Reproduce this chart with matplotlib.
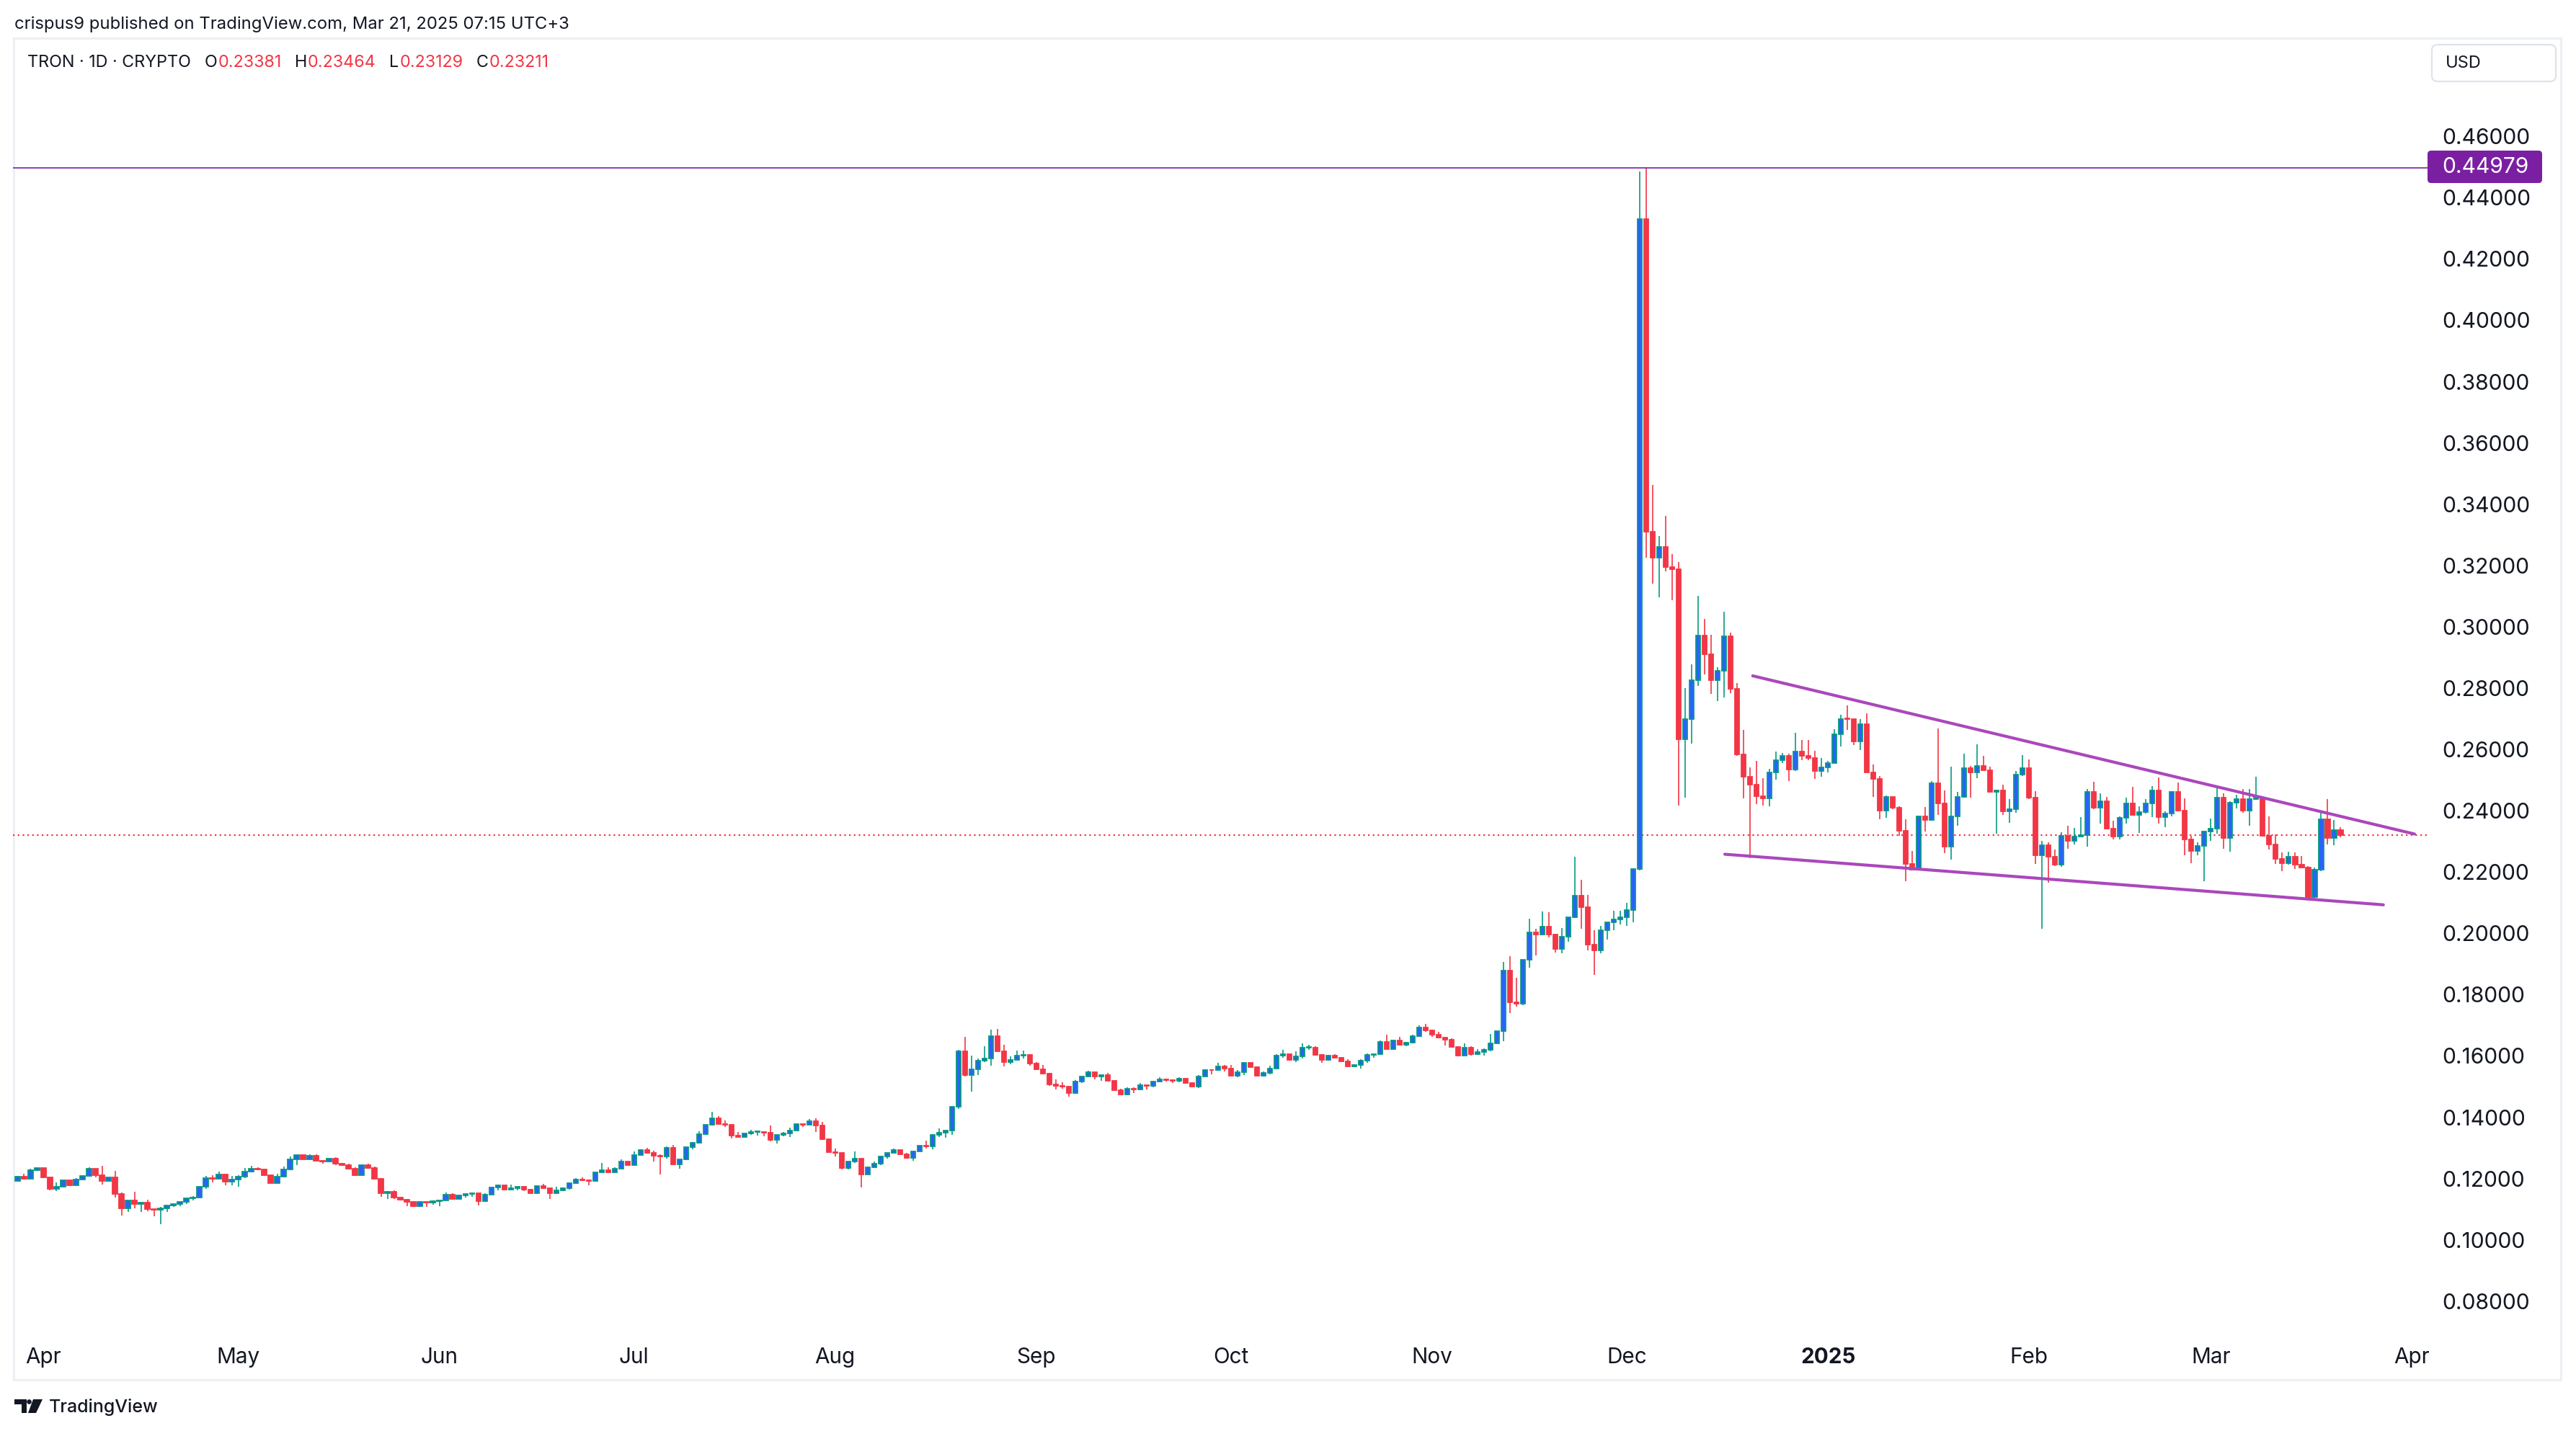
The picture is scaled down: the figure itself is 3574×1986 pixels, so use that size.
import numpy as np
import pandas as pd
import matplotlib
matplotlib.use('Agg')
import matplotlib.pyplot as plt
from matplotlib.patches import Rectangle, FancyBboxPatch, Circle, Polygon

plt.rcParams['font.family'] = ['Inter', 'DejaVu Sans']

# TRX/USD daily candles, 2024-03-28 .. 2025-03-21 (open = previous close)
start_date = '2024-03-28'
first_open = 0.1193
close = [
    0.1206, 0.1200, 0.1227, 0.1235, 0.1204, 0.1167, 0.1173, 0.1194, 0.1178, 0.1196,
    0.1208, 0.1232, 0.1212, 0.1192, 0.1204, 0.1150, 0.1102, 0.1129, 0.1116, 0.1121,
    0.1100, 0.1097, 0.1102, 0.1113, 0.1117, 0.1125, 0.1136, 0.1138, 0.1174, 0.1201,
    0.1200, 0.1213, 0.1191, 0.1196, 0.1206, 0.1223, 0.1231, 0.1229, 0.1212, 0.1186,
    0.1206, 0.1229, 0.1263, 0.1277, 0.1263, 0.1275, 0.1259, 0.1256, 0.1265, 0.1249,
    0.1245, 0.1231, 0.1211, 0.1245, 0.1235, 0.1200, 0.1153, 0.1157, 0.1138, 0.1132,
    0.1124, 0.1110, 0.1124, 0.1121, 0.1126, 0.1129, 0.1148, 0.1134, 0.1146, 0.1150,
    0.1152, 0.1127, 0.1148, 0.1170, 0.1178, 0.1164, 0.1168, 0.1173, 0.1165, 0.1152,
    0.1176, 0.1168, 0.1153, 0.1161, 0.1169, 0.1185, 0.1197, 0.1195, 0.1193, 0.1220,
    0.1227, 0.1220, 0.1232, 0.1255, 0.1245, 0.1276, 0.1293, 0.1284, 0.1274, 0.1271,
    0.1300, 0.1247, 0.1263, 0.1302, 0.1317, 0.1344, 0.1375, 0.1396, 0.1379, 0.1376,
    0.1341, 0.1336, 0.1348, 0.1351, 0.1352, 0.1349, 0.1325, 0.1342, 0.1348, 0.1357,
    0.1378, 0.1375, 0.1387, 0.1374, 0.1328, 0.1286, 0.1283, 0.1235, 0.1256, 0.1264,
    0.1214, 0.1237, 0.1249, 0.1272, 0.1284, 0.1293, 0.1278, 0.1268, 0.1289, 0.1307,
    0.1306, 0.1342, 0.1349, 0.1356, 0.1434, 0.1615, 0.1538, 0.1556, 0.1585, 0.1592,
    0.1665, 0.1616, 0.1580, 0.1587, 0.1600, 0.1603, 0.1576, 0.1556, 0.1543, 0.1506,
    0.1503, 0.1499, 0.1480, 0.1517, 0.1533, 0.1547, 0.1532, 0.1538, 0.1520, 0.1489,
    0.1475, 0.1493, 0.1490, 0.1505, 0.1502, 0.1516, 0.1523, 0.1522, 0.1520, 0.1526,
    0.1512, 0.1501, 0.1533, 0.1554, 0.1553, 0.1566, 0.1560, 0.1536, 0.1548, 0.1578,
    0.1564, 0.1536, 0.1544, 0.1558, 0.1600, 0.1605, 0.1588, 0.1598, 0.1626, 0.1628,
    0.1603, 0.1588, 0.1600, 0.1594, 0.1583, 0.1567, 0.1570, 0.1584, 0.1603, 0.1606,
    0.1646, 0.1623, 0.1650, 0.1637, 0.1643, 0.1665, 0.1692, 0.1683, 0.1670, 0.1661,
    0.1652, 0.1629, 0.1600, 0.1626, 0.1605, 0.1612, 0.1621, 0.1640, 0.1680, 0.1878,
    0.1774, 0.1771, 0.1913, 0.2002, 0.1995, 0.2023, 0.1997, 0.1950, 0.1988, 0.2052,
    0.2122, 0.2086, 0.1962, 0.1945, 0.2009, 0.2035, 0.2045, 0.2052, 0.2075, 0.2211,
    0.4331, 0.3310, 0.3225, 0.3260, 0.3195, 0.3188, 0.2632, 0.2699, 0.2826, 0.2972,
    0.2911, 0.2826, 0.2857, 0.2970, 0.2797, 0.2584, 0.2511, 0.2485, 0.2447, 0.2441,
    0.2524, 0.2564, 0.2578, 0.2535, 0.2593, 0.2579, 0.2573, 0.2530, 0.2542, 0.2555,
    0.2649, 0.2700, 0.2698, 0.2626, 0.2683, 0.2526, 0.2504, 0.2400, 0.2446, 0.2409,
    0.2335, 0.2226, 0.2207, 0.2381, 0.2370, 0.2489, 0.2424, 0.2283, 0.2381, 0.2446,
    0.2538, 0.2526, 0.2546, 0.2533, 0.2462, 0.2466, 0.2399, 0.2405, 0.2519, 0.2538,
    0.2442, 0.2255, 0.2288, 0.2249, 0.2224, 0.2317, 0.2301, 0.2315, 0.2321, 0.2461,
    0.2410, 0.2432, 0.2341, 0.2316, 0.2376, 0.2425, 0.2387, 0.2395, 0.2423, 0.2466,
    0.2380, 0.2392, 0.2461, 0.2400, 0.2307, 0.2269, 0.2284, 0.2332, 0.2341, 0.2443,
    0.2312, 0.2426, 0.2437, 0.2401, 0.2437, 0.2442, 0.2318, 0.2291, 0.2244, 0.2229,
    0.2251, 0.2225, 0.2215, 0.2118, 0.2207, 0.2371, 0.2310, 0.2338, 0.23211,
]
high = [
    0.1208, 0.1215, 0.1231, 0.1235, 0.1235, 0.1204, 0.1187, 0.1194, 0.1194, 0.1201,
    0.1208, 0.1237, 0.1232, 0.1241, 0.1205, 0.1225, 0.1155, 0.1129, 0.1157, 0.1121,
    0.1131, 0.1101, 0.1108, 0.1113, 0.1117, 0.1125, 0.1136, 0.1143, 0.1174, 0.1209,
    0.1211, 0.1223, 0.1214, 0.1209, 0.1212, 0.1235, 0.1242, 0.1237, 0.1229, 0.1213,
    0.1216, 0.1239, 0.1272, 0.1277, 0.1277, 0.1278, 0.1278, 0.1260, 0.1268, 0.1270,
    0.1251, 0.1249, 0.1236, 0.1246, 0.1249, 0.1240, 0.1202, 0.1160, 0.1162, 0.1141,
    0.1134, 0.1126, 0.1126, 0.1124, 0.1129, 0.1129, 0.1155, 0.1152, 0.1146, 0.1150,
    0.1155, 0.1150, 0.1152, 0.1170, 0.1178, 0.1178, 0.1180, 0.1173, 0.1174, 0.1166,
    0.1176, 0.1183, 0.1169, 0.1173, 0.1171, 0.1187, 0.1202, 0.1205, 0.1197, 0.1220,
    0.1251, 0.1237, 0.1237, 0.1262, 0.1256, 0.1288, 0.1293, 0.1300, 0.1291, 0.1278,
    0.1305, 0.1310, 0.1263, 0.1302, 0.1317, 0.1354, 0.1375, 0.1418, 0.1404, 0.1390,
    0.1375, 0.1351, 0.1348, 0.1359, 0.1352, 0.1353, 0.1373, 0.1342, 0.1351, 0.1365,
    0.1378, 0.1378, 0.1394, 0.1396, 0.1385, 0.1328, 0.1298, 0.1284, 0.1256, 0.1289,
    0.1265, 0.1239, 0.1255, 0.1274, 0.1284, 0.1298, 0.1293, 0.1284, 0.1291, 0.1307,
    0.1324, 0.1342, 0.1364, 0.1356, 0.1434, 0.1619, 0.1662, 0.1602, 0.1592, 0.1632,
    0.1686, 0.1688, 0.1636, 0.1599, 0.1618, 0.1618, 0.1606, 0.1580, 0.1571, 0.1545,
    0.1524, 0.1514, 0.1501, 0.1521, 0.1533, 0.1552, 0.1547, 0.1538, 0.1545, 0.1521,
    0.1493, 0.1498, 0.1498, 0.1513, 0.1505, 0.1516, 0.1531, 0.1526, 0.1523, 0.1531,
    0.1529, 0.1513, 0.1537, 0.1557, 0.1556, 0.1578, 0.1571, 0.1571, 0.1554, 0.1578,
    0.1581, 0.1565, 0.1549, 0.1568, 0.1605, 0.1620, 0.1609, 0.1615, 0.1641, 0.1636,
    0.1632, 0.1605, 0.1603, 0.1606, 0.1596, 0.1589, 0.1570, 0.1589, 0.1608, 0.1606,
    0.1650, 0.1669, 0.1653, 0.1662, 0.1643, 0.1669, 0.1700, 0.1705, 0.1685, 0.1679,
    0.1662, 0.1658, 0.1630, 0.1641, 0.1632, 0.1622, 0.1625, 0.1672, 0.1680, 0.1907,
    0.1926, 0.1854, 0.1913, 0.2048, 0.2015, 0.2071, 0.2069, 0.1999, 0.2017, 0.2052,
    0.2250, 0.2175, 0.2125, 0.2010, 0.2024, 0.2035, 0.2074, 0.2074, 0.2099, 0.2211,
    0.4484, 0.4498, 0.3463, 0.3296, 0.3362, 0.3238, 0.3211, 0.2799, 0.2878, 0.3101,
    0.3026, 0.2975, 0.2868, 0.3048, 0.2981, 0.2816, 0.2664, 0.2542, 0.2562, 0.2506,
    0.2536, 0.2593, 0.2588, 0.2587, 0.2654, 0.2630, 0.2630, 0.2595, 0.2573, 0.2563,
    0.2666, 0.2713, 0.2743, 0.2697, 0.2699, 0.2717, 0.2550, 0.2514, 0.2450, 0.2446,
    0.2414, 0.2371, 0.2269, 0.2381, 0.2412, 0.2496, 0.2668, 0.2465, 0.2543, 0.2462,
    0.2586, 0.2545, 0.2616, 0.2579, 0.2543, 0.2468, 0.2484, 0.2437, 0.2529, 0.2581,
    0.2567, 0.2463, 0.2301, 0.2298, 0.2273, 0.2329, 0.2351, 0.2345, 0.2379, 0.2470,
    0.2494, 0.2457, 0.2444, 0.2368, 0.2381, 0.2442, 0.2477, 0.2414, 0.2439, 0.2480,
    0.2508, 0.2398, 0.2464, 0.2492, 0.2440, 0.2318, 0.2297, 0.2334, 0.2374, 0.2473,
    0.2457, 0.2430, 0.2452, 0.2470, 0.2470, 0.2511, 0.2446, 0.2381, 0.2323, 0.2264,
    0.2266, 0.2264, 0.2252, 0.2219, 0.2214, 0.2395, 0.2437, 0.2369, 0.23464,
]
low = [
    0.1193, 0.1198, 0.1200, 0.1224, 0.1202, 0.1162, 0.1160, 0.1173, 0.1176, 0.1178,
    0.1196, 0.1207, 0.1205, 0.1181, 0.1192, 0.1137, 0.1080, 0.1092, 0.1104, 0.1092,
    0.1094, 0.1078, 0.1052, 0.1092, 0.1108, 0.1109, 0.1116, 0.1128, 0.1137, 0.1167,
    0.1188, 0.1199, 0.1179, 0.1179, 0.1174, 0.1202, 0.1221, 0.1228, 0.1210, 0.1185,
    0.1184, 0.1205, 0.1229, 0.1245, 0.1262, 0.1263, 0.1256, 0.1249, 0.1254, 0.1245,
    0.1242, 0.1230, 0.1209, 0.1211, 0.1231, 0.1200, 0.1141, 0.1134, 0.1134, 0.1129,
    0.1110, 0.1107, 0.1110, 0.1108, 0.1114, 0.1111, 0.1129, 0.1132, 0.1134, 0.1139,
    0.1141, 0.1113, 0.1125, 0.1147, 0.1162, 0.1163, 0.1161, 0.1162, 0.1159, 0.1151,
    0.1152, 0.1167, 0.1133, 0.1153, 0.1159, 0.1165, 0.1182, 0.1192, 0.1178, 0.1192,
    0.1220, 0.1219, 0.1219, 0.1231, 0.1244, 0.1245, 0.1276, 0.1282, 0.1256, 0.1214,
    0.1266, 0.1246, 0.1231, 0.1261, 0.1295, 0.1315, 0.1343, 0.1374, 0.1375, 0.1369,
    0.1332, 0.1335, 0.1337, 0.1343, 0.1341, 0.1339, 0.1322, 0.1315, 0.1339, 0.1336,
    0.1356, 0.1368, 0.1373, 0.1352, 0.1326, 0.1286, 0.1272, 0.1230, 0.1230, 0.1252,
    0.1172, 0.1214, 0.1236, 0.1244, 0.1266, 0.1283, 0.1278, 0.1264, 0.1259, 0.1288,
    0.1299, 0.1296, 0.1336, 0.1333, 0.1343, 0.1428, 0.1534, 0.1484, 0.1538, 0.1581,
    0.1569, 0.1616, 0.1566, 0.1574, 0.1587, 0.1592, 0.1568, 0.1553, 0.1541, 0.1503,
    0.1491, 0.1494, 0.1467, 0.1480, 0.1513, 0.1533, 0.1524, 0.1520, 0.1520, 0.1489,
    0.1475, 0.1473, 0.1480, 0.1490, 0.1491, 0.1497, 0.1515, 0.1517, 0.1513, 0.1515,
    0.1510, 0.1501, 0.1496, 0.1533, 0.1540, 0.1551, 0.1550, 0.1534, 0.1531, 0.1538,
    0.1564, 0.1536, 0.1533, 0.1540, 0.1558, 0.1595, 0.1588, 0.1581, 0.1592, 0.1621,
    0.1600, 0.1578, 0.1585, 0.1592, 0.1583, 0.1567, 0.1564, 0.1560, 0.1578, 0.1595,
    0.1605, 0.1623, 0.1623, 0.1637, 0.1632, 0.1640, 0.1663, 0.1679, 0.1663, 0.1660,
    0.1633, 0.1629, 0.1599, 0.1600, 0.1600, 0.1604, 0.1602, 0.1615, 0.1639, 0.1648,
    0.1740, 0.1762, 0.1765, 0.1888, 0.1928, 0.1995, 0.1987, 0.1937, 0.1935, 0.1973,
    0.2051, 0.2015, 0.1944, 0.1865, 0.1935, 0.1980, 0.2010, 0.2029, 0.2024, 0.2036,
    0.2205, 0.3225, 0.3141, 0.3096, 0.3181, 0.3087, 0.2416, 0.2443, 0.2619, 0.2808,
    0.2844, 0.2781, 0.2758, 0.2769, 0.2783, 0.2578, 0.2441, 0.2245, 0.2422, 0.2417,
    0.2415, 0.2502, 0.2556, 0.2497, 0.2530, 0.2565, 0.2565, 0.2504, 0.2511, 0.2526,
    0.2555, 0.2610, 0.2664, 0.2615, 0.2598, 0.2526, 0.2446, 0.2371, 0.2377, 0.2405,
    0.2317, 0.2170, 0.2205, 0.2207, 0.2332, 0.2370, 0.2386, 0.2261, 0.2241, 0.2352,
    0.2446, 0.2442, 0.2507, 0.2533, 0.2462, 0.2325, 0.2386, 0.2360, 0.2393, 0.2512,
    0.2439, 0.2226, 0.2014, 0.2165, 0.2220, 0.2218, 0.2276, 0.2289, 0.2315, 0.2283,
    0.2404, 0.2358, 0.2339, 0.2306, 0.2306, 0.2359, 0.2385, 0.2328, 0.2391, 0.2380,
    0.2359, 0.2347, 0.2382, 0.2399, 0.2255, 0.2229, 0.2255, 0.2171, 0.2302, 0.2324,
    0.2276, 0.2267, 0.2407, 0.2394, 0.2352, 0.2436, 0.2318, 0.2273, 0.2226, 0.2204,
    0.2225, 0.2211, 0.2214, 0.2113, 0.2113, 0.2204, 0.2291, 0.2288, 0.23129,
]

ath_price = 0.44979
last_price = 0.23211
# falling wedge drawn on the chart: (candle index, price) end points
wedge_upper_x = [267.4, 369.4]
wedge_upper_y = [0.2840, 0.2324]
wedge_lower_x = [263.1, 364.6]
wedge_lower_y = [0.2258, 0.2093]

price_ticks = [0.08, 0.10, 0.12, 0.14, 0.16, 0.18, 0.20, 0.22, 0.24, 0.26,
               0.28, 0.30, 0.32, 0.34, 0.36, 0.38, 0.40, 0.42, 0.44, 0.46]
month_labels = ['Apr', 'May', 'Jun', 'Jul', 'Aug', 'Sep', 'Oct', 'Nov', 'Dec',
                '2025', 'Feb', 'Mar', 'Apr']

header = 'crispus9 published on TradingView.com, Mar 21, 2025 07:15 UTC+3'
legend_parts = [('TRON · 1D · CRYPTO', None), ('O', '0.23381'), ('H', '0.23464'),
                ('L', '0.23129'), ('C', '0.23211')]

TEXT = '#131722'
UP_EDGE = '#089981'
UP_FILL = '#2962ff'
DOWN = '#f23645'
W, H = 3574, 1986

close = np.array(close)
high = np.array(high)
low = np.array(low)
opn = np.concatenate([[first_open], close[:-1]])
high = np.maximum(high, np.maximum(opn, close))
low = np.minimum(low, np.minimum(opn, close))
x = np.arange(len(close))
up = close >= opn

fig = plt.figure(figsize=(W / 200, H / 200), dpi=200, facecolor='white')

# pixel-space overlay for the frame and texts
deco = fig.add_axes([0, 0, 1, 1])
deco.set_xlim(0, W)
deco.set_ylim(H, 0)
deco.axis('off')

ax = fig.add_axes([18 / W, 1 - 1845 / H, (3368 - 18) / W, (1845 - 53) / H])
ax.patch.set_alpha(0)
for s in ax.spines.values():
    s.set_visible(False)

# candles
ax.vlines(x[up], low[up], high[up], color=UP_EDGE, lw=0.6, zorder=2)
ax.vlines(x[~up], low[~up], high[~up], color=DOWN, lw=0.6, zorder=2)
body_lo = np.minimum(opn, close)
body_h = np.maximum(np.abs(close - opn), 0.00022)
ax.bar(x[up], body_h[up], bottom=body_lo[up], width=0.7, color=UP_FILL,
       edgecolor=UP_EDGE, linewidth=0.65, zorder=3)
ax.bar(x[~up], body_h[~up], bottom=body_lo[~up], width=0.7, color=DOWN,
       edgecolor=DOWN, linewidth=0.65, zorder=3)

ax.axhline(ath_price, color='#7b1fa2', lw=0.6, zorder=4)
ax.axhline(last_price, color=DOWN, lw=0.8, ls=(0, (1, 2)), zorder=1)
ax.plot(wedge_upper_x, wedge_upper_y, color='#ab47bc', lw=1.5, solid_capstyle='round', zorder=5)
ax.plot(wedge_lower_x, wedge_lower_y, color='#ab47bc', lw=1.5, solid_capstyle='round', zorder=5)

ax.set_xlim(-0.72, 371.4)
ax.set_ylim(0.0708, 0.4920)

ax.yaxis.tick_right()
ax.set_yticks(price_ticks)
ax.set_yticklabels(['%.5f' % p for p in price_ticks])
ax.tick_params(axis='y', length=0, pad=7.2, labelsize=10.8, labelcolor=TEXT)

month_pos = (pd.date_range('2024-04-01', '2025-04-01', freq='MS') - pd.Timestamp(start_date)).days
ax.set_xticks(month_pos)
ax.set_xticklabels(month_labels)
ax.tick_params(axis='x', length=0, pad=9, labelsize=10.7, labelcolor=TEXT)
ax.get_xticklabels()[month_labels.index('2025')].set_fontweight('bold')

# chart frame
deco.add_patch(Rectangle((19, 53), 3553 - 19, 1915 - 53, fill=False, edgecolor='#eceff3', lw=1.1))

# ATH price label on the scale
deco.add_patch(FancyBboxPatch((3368, 209), 159, 45, boxstyle='round,pad=0,rounding_size=5',
                              facecolor='#7b1fa2', edgecolor='none'))
deco.text(3388, 232, '%.5f' % ath_price, color='white', fontsize=10.8, va='center', ha='left')

# currency box
deco.add_patch(FancyBboxPatch((3374, 62), 172, 51, boxstyle='round,pad=0,rounding_size=8',
                              facecolor='white', edgecolor='#e0e3eb', lw=0.8))
deco.text(3393, 88, 'USD', color=TEXT, fontsize=8.5, va='center', ha='left')

# header and legend
deco.text(20, 34, header, color=TEXT, fontsize=8.6, va='center', ha='left')
renderer = fig.canvas.get_renderer()
cx = 38
for name, val in legend_parts:
    t = deco.text(cx, 87, name, color=TEXT, fontsize=8.4, va='center', ha='left')
    cx = t.get_window_extent(renderer).x1 + 1
    if val is not None:
        t = deco.text(cx, 87, val, color=DOWN, fontsize=8.4, va='center', ha='left')
        cx = t.get_window_extent(renderer).x1
    cx += 18

# TradingView logo
deco.add_patch(Polygon([(20, 1942), (37, 1942), (37, 1961), (30, 1961), (30, 1949), (20, 1949)],
                       closed=True, facecolor=TEXT, edgecolor='none'))
deco.add_patch(Circle((40.5, 1945.5), 3.3, facecolor=TEXT, edgecolor='none'))
deco.add_patch(Polygon([(46, 1942), (59, 1942), (50, 1961), (39, 1961)],
                       closed=True, facecolor=TEXT, edgecolor='none'))
deco.text(68, 1953, 'TradingView', color=TEXT, fontsize=9, fontweight='medium', va='center', ha='left')

fig.savefig('out.png', dpi=200, facecolor='white')
